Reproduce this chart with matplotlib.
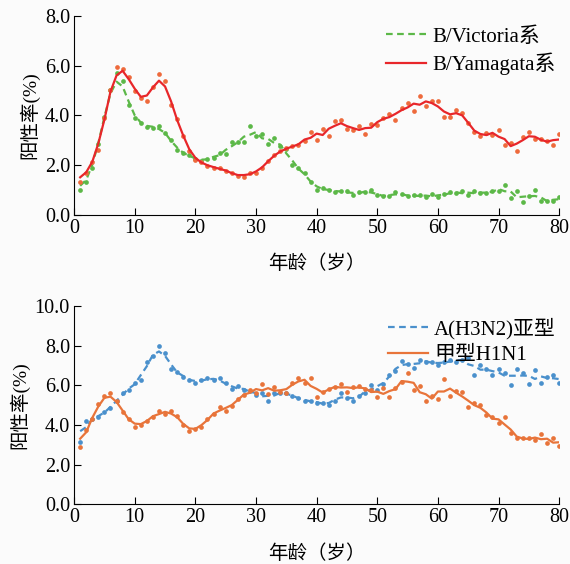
import numpy as np
import pandas as pd
import matplotlib
matplotlib.use("Agg")
import matplotlib.pyplot as plt

plt.rcParams['font.family'] = ['Liberation Serif', 'Noto Sans CJK SC']
plt.rcParams['axes.unicode_minus'] = False

ages = np.arange(1, 81)

victoria = [1.0, 1.34, 1.88, 2.84, 3.95, 5.0, 5.7, 5.36, 4.42, 3.89,
            3.69, 3.55, 3.49, 3.58, 3.28, 3.02, 2.61, 2.48, 2.39, 2.25,
            2.17, 2.24, 2.28, 2.48, 2.44, 2.92, 2.92, 2.92, 3.59, 3.15,
            3.24, 2.84, 3.08, 2.75, 2.65, 2.01, 1.88, 1.68, 1.34, 1.0,
            1.1, 1.0, 0.91, 0.97, 0.94, 0.80, 0.91, 0.91, 1.0, 0.78,
            0.74, 0.74, 0.91, 0.82, 0.74, 0.78, 0.80, 0.70, 0.83, 0.70,
            0.83, 0.91, 0.87, 0.94, 0.80, 0.94, 0.87, 0.87, 0.94, 0.97,
            1.21, 0.67, 0.94, 0.51, 0.74, 1.0, 0.54, 0.56, 0.56, 0.70]

yamagata = [1.34, 1.68, 2.12, 2.6, 3.9, 5.0, 5.96, 5.85, 5.56, 4.96,
            4.69, 4.58, 5.12, 5.67, 5.39, 4.42, 3.86, 3.15, 2.55, 2.21,
            2.12, 1.98, 1.88, 1.9, 1.77, 1.68, 1.58, 1.54, 1.68, 1.68,
            1.88, 2.17, 2.41, 2.55, 2.68, 2.75, 2.81, 2.95, 3.32, 3.02,
            3.46, 3.15, 3.78, 3.81, 3.46, 3.43, 3.57, 3.24, 3.65, 3.62,
            3.91, 4.05, 3.83, 4.3, 4.49, 4.16, 4.76, 4.36, 4.56, 4.56,
            3.95, 3.95, 4.22, 4.09, 3.69, 3.32, 3.15, 3.28, 3.19, 3.42,
            2.82, 2.9, 2.57, 3.12, 3.32, 3.04, 3.06, 2.95, 2.82, 3.24]

h3n2 = [3.16, 4.22, 4.3, 4.39, 4.67, 4.84, 5.23, 5.6, 5.77, 6.14,
        6.27, 7.16, 7.49, 8.0, 7.66, 6.82, 6.7, 6.45, 6.28, 6.11,
        6.28, 6.36, 6.28, 6.36, 6.11, 5.8, 5.96, 5.77, 5.74, 5.52,
        5.6, 5.23, 5.6, 5.64, 5.64, 5.47, 5.35, 5.23, 5.23, 5.13,
        5.1, 5.01, 5.23, 5.6, 5.35, 5.23, 5.47, 5.6, 6.03, 5.77,
        6.08, 6.53, 6.75, 7.23, 7.1, 6.9, 7.26, 7.2, 7.2, 7.04,
        7.16, 7.26, 7.2, 7.29, 7.38, 6.53, 7.04, 6.82, 6.53, 6.82,
        6.62, 6.03, 6.82, 6.62, 6.06, 6.78, 6.14, 6.45, 6.53, 6.11]

h1n1 = [2.87, 3.75, 4.29, 5.06, 5.47, 5.6, 5.23, 4.67, 4.29, 3.92,
        4.0, 4.22, 4.39, 4.73, 4.54, 4.73, 4.46, 4.0, 3.71, 3.78,
        3.92, 4.29, 4.56, 4.9, 4.73, 4.96, 5.33, 5.52, 5.77, 5.6,
        6.08, 5.57, 5.94, 5.69, 5.64, 6.11, 6.36, 6.14, 6.36, 5.43,
        5.69, 5.8, 5.91, 6.08, 5.69, 5.94, 5.97, 5.8, 5.77, 5.43,
        5.86, 5.43, 5.86, 6.15, 6.65, 5.77, 5.97, 5.23, 5.47, 5.3,
        6.31, 5.47, 5.74, 5.69, 4.9, 5.1, 5.01, 4.5, 4.39, 4.08,
        4.39, 3.61, 3.32, 3.32, 3.32, 3.24, 3.54, 3.07, 3.32, 2.94]

top_names = ['B/Victoria系', 'B/Yamagata系']
bottom_names = ['A(H3N2)亚型', '甲型H1N1']


def smooth(values):
    return pd.Series(values).rolling(3, center=True, min_periods=1).mean().values


def draw_series(ax, values, line_color, dot_color, style, name):
    ax.plot(ages, values, 'o', color=dot_color, markersize=3.4, markeredgewidth=0)
    ax.plot(ages, smooth(values), linestyle=style, color=line_color, lw=1.6, label=name)


def style_axes(ax, ymax):
    ax.set_facecolor('#fbfbfb')
    ax.spines['top'].set_visible(False)
    ax.spines['right'].set_visible(False)
    ax.set_xlim(0, 80)
    ax.set_ylim(0, ymax)
    ax.set_xticks(range(0, 81, 10))
    ax.set_yticks(np.arange(0, ymax + 0.1, 2))
    ax.set_yticklabels([f'{v:.1f}' for v in np.arange(0, ymax + 0.1, 2)])
    ax.tick_params(direction='in', labelsize=14.5, length=5, pad=3)
    ax.set_xlabel('年龄（岁）', fontsize=14, labelpad=12)
    ax.set_ylabel('阳性率(%)', fontsize=14, labelpad=4)
    ax.legend(loc='upper right', frameon=False, fontsize=15, handlelength=1.9,
              handletextpad=0.3, borderaxespad=0.0, labelspacing=0.3,
              bbox_to_anchor=(1.01, 0.985))


fig = plt.figure(figsize=(5.7, 5.64), dpi=100)
fig.patch.set_facecolor('#fbfbfb')

ax1 = fig.add_axes([0.130, 0.619, 0.851, 0.353])
draw_series(ax1, victoria, '#5cb848', '#5cb848', (0, (3, 2)), top_names[0])
draw_series(ax1, yamagata, '#e8262a', '#ee6a3c', '-', top_names[1])
style_axes(ax1, 8.0)

ax2 = fig.add_axes([0.130, 0.106, 0.851, 0.351])
draw_series(ax2, h3n2, '#4a90cc', '#4a90cc', (0, (3, 2)), bottom_names[0])
draw_series(ax2, h1n1, '#e8743a', '#e8743a', '-', bottom_names[1])
style_axes(ax2, 10.0)

fig.savefig('out.png', dpi=100, facecolor=fig.get_facecolor())
